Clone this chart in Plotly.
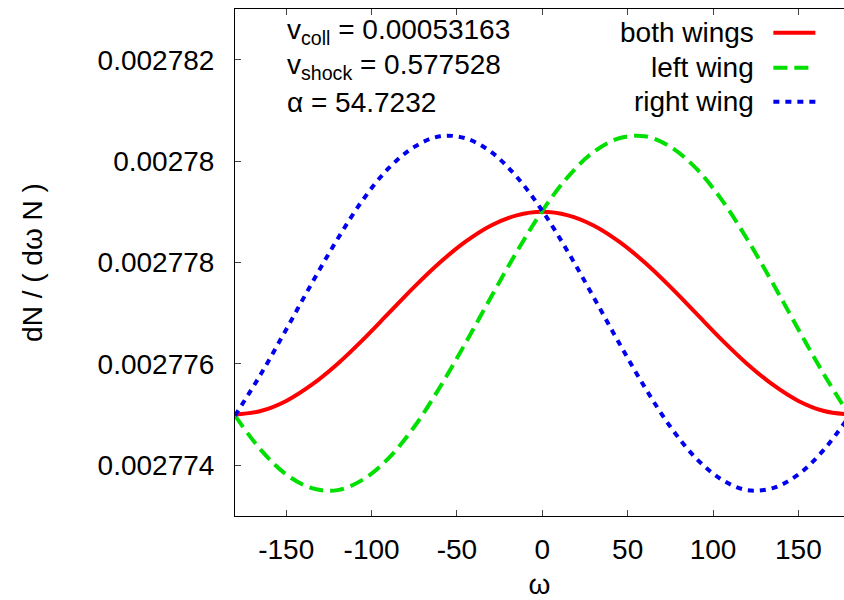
import plotly.graph_objects as go

# angle omega (degrees)
omega = [-180, -165, -150, -135, -120, -105, -90, -75, -60, -45, -30, -15, 0,
         15, 30, 45, 60, 75, 90, 105, 120, 135, 150, 165, 180]

both_wings = [0.00277500, 0.00277507, 0.00277527, 0.00277559, 0.00277600, 0.00277648,
              0.00277700, 0.00277752, 0.00277800, 0.00277841, 0.00277873, 0.00277893,
              0.00277900, 0.00277893, 0.00277873, 0.00277841, 0.00277800, 0.00277752,
              0.00277700, 0.00277648, 0.00277600, 0.00277559, 0.00277527, 0.00277507,
              0.00277500]

left_wing = [0.00277498, 0.00277431, 0.00277382, 0.00277355, 0.00277351, 0.00277372,
             0.00277414, 0.00277476, 0.00277554, 0.00277641, 0.00277732, 0.00277821,
             0.00277902, 0.00277969, 0.00278018, 0.00278045, 0.00278049, 0.00278028,
             0.00277986, 0.00277924, 0.00277846, 0.00277759, 0.00277668, 0.00277579,
             0.00277498]

right_wing = [0.00277498, 0.00277579, 0.00277668, 0.00277759, 0.00277846, 0.00277924,
              0.00277986, 0.00278028, 0.00278049, 0.00278045, 0.00278018, 0.00277969,
              0.00277902, 0.00277821, 0.00277732, 0.00277641, 0.00277554, 0.00277476,
              0.00277414, 0.00277372, 0.00277351, 0.00277355, 0.00277382, 0.00277431,
              0.00277498]

series_names = ["both wings", "left wing", "right wing"]
series_colors = ["#ff0000", "#00e000", "#0000ee"]
series_dash = ["solid", "14px,7px", "6px,6px"]

x_ticks = [-150, -100, -50, 0, 50, 100, 150]
x_tick_text = ["-150", "-100", "-50", "0", "50", "100", "150"]
y_ticks = [0.002774, 0.002776, 0.002778, 0.00278, 0.002782]
y_tick_text = ["0.002774", "0.002776", "0.002778", "0.00278", "0.002782"]

info_lines = ["v<sub>coll</sub> = 0.00053163",
              "v<sub>shock</sub> = 0.577528",
              "α = 54.7232"]

FONT = "Liberation Sans, Arial, Helvetica, sans-serif"
FS = 28

fig = go.Figure()
for name, ys, col, dash in zip(series_names, [both_wings, left_wing, right_wing],
                               series_colors, series_dash):
    fig.add_trace(go.Scatter(x=omega, y=ys, mode="lines", name=name,
                             line=dict(color=col, width=4, dash=dash, shape="spline"),
                             showlegend=False))

# custom legend (text on left, sample line on right)
leg_y = [0.953, 0.884, 0.817]
for name, col, dash, yy in zip(series_names, series_colors, series_dash, leg_y):
    fig.add_annotation(text=name, xref="paper", yref="paper", x=0.855, y=yy,
                       xanchor="right", yanchor="middle", showarrow=False,
                       font=dict(family=FONT, size=FS, color="black"))
    fig.add_shape(type="line", xref="paper", yref="paper", x0=0.884, x1=0.953,
                  y0=yy, y1=yy, line=dict(color=col, width=4, dash=dash))

info_y = [0.955, 0.886, 0.815]
for txt, yy in zip(info_lines, info_y):
    fig.add_annotation(text=txt, xref="paper", yref="paper", x=0.082, y=yy,
                       xanchor="left", yanchor="middle", showarrow=False,
                       font=dict(family=FONT, size=FS, color="black"))

fig.update_layout(
    width=844, height=600,
    margin=dict(l=235, r=0, t=9, b=84),
    paper_bgcolor="white", plot_bgcolor="white",
    font=dict(family=FONT, size=FS, color="black"),
    xaxis=dict(range=[-180, 176.7], tickvals=x_ticks, ticktext=x_tick_text,
               ticks="inside", ticklen=6, automargin=False,
               showline=True, linecolor="black", linewidth=1, mirror="ticks",
               showgrid=False, zeroline=False, ticklabelstandoff=8,
               title=dict(text="ω", standoff=21, font=dict(size=FS))),
    yaxis=dict(range=[0.002773, 0.002783], tickvals=y_ticks, ticktext=y_tick_text,
               ticks="inside", ticklen=6, showline=True, linecolor="black",
               linewidth=1, mirror=False, showgrid=False, zeroline=False,
               ticklabelstandoff=14, automargin=False,
               title=dict(text="dN / ( dω N )", standoff=46, font=dict(size=FS))),
)

fig.write_html("out.html")
